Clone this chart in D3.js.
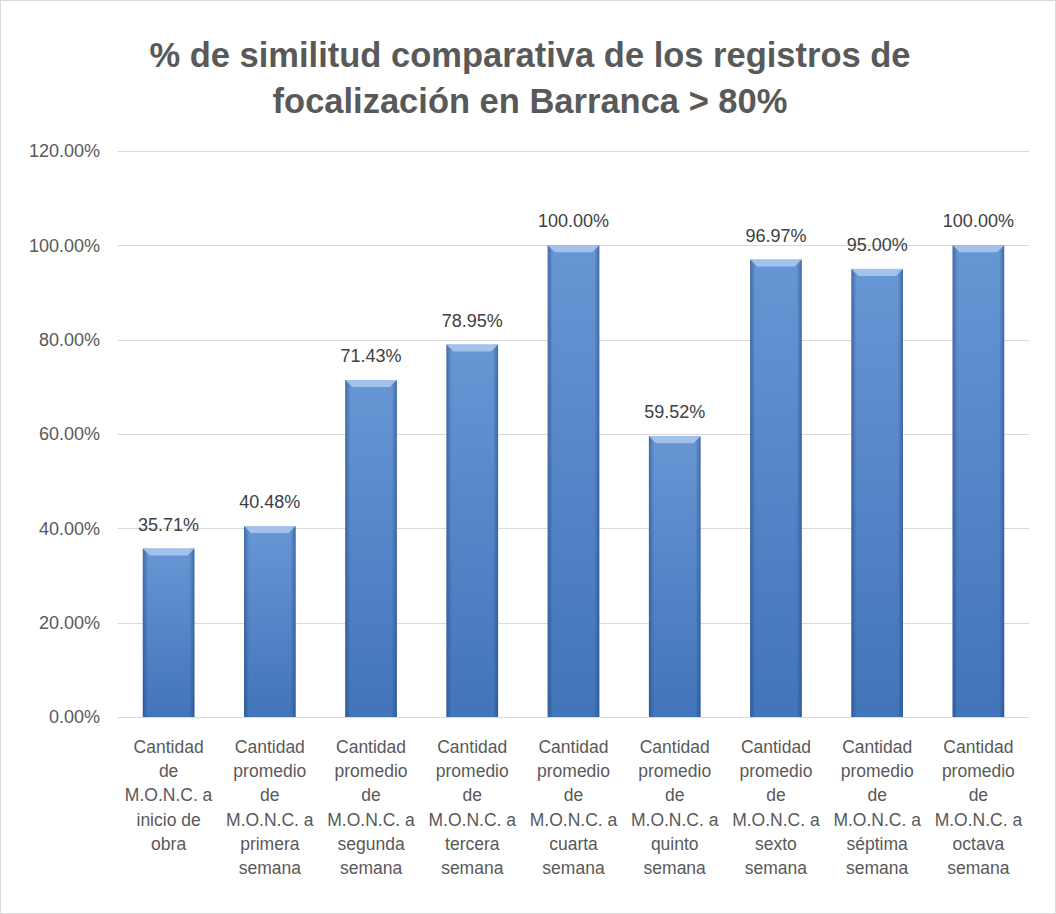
<!DOCTYPE html>
<html>
<head>
<meta charset="utf-8">
<script src="https://cdn.jsdelivr.net/npm/d3@7"></script>
<style>
  body { margin: 0; background: #fff; }
  text { font-family: "Liberation Sans", Arial, sans-serif; }
</style>
</head>
<body>
<svg id="chart" width="1056" height="914"></svg>
<script>
// data
var categories = [
  ["Cantidad", "de", "M.O.N.C. a", "inicio de", "obra"],
  ["Cantidad", "promedio", "de", "M.O.N.C. a", "primera", "semana"],
  ["Cantidad", "promedio", "de", "M.O.N.C. a", "segunda", "semana"],
  ["Cantidad", "promedio", "de", "M.O.N.C. a", "tercera", "semana"],
  ["Cantidad", "promedio", "de", "M.O.N.C. a", "cuarta", "semana"],
  ["Cantidad", "promedio", "de", "M.O.N.C. a", "quinto", "semana"],
  ["Cantidad", "promedio", "de", "M.O.N.C. a", "sexto", "semana"],
  ["Cantidad", "promedio", "de", "M.O.N.C. a", "séptima", "semana"],
  ["Cantidad", "promedio", "de", "M.O.N.C. a", "octava", "semana"]
];
var values = [35.71, 40.48, 71.43, 78.95, 100.00, 59.52, 96.97, 95.00, 100.00];
var yTicks = [0, 20, 40, 60, 80, 100, 120];
var titleLines = ["% de similitud comparativa de los registros de", "focalización en Barranca > 80%"];

var W = 1056, H = 914;
var plot = {left: 118, right: 1029, top: 151, bottom: 717};

var svg = d3.select("#chart");

// outer border
svg.append("rect")
  .attr("x", 0.5).attr("y", 0.5)
  .attr("width", W - 1).attr("height", H - 1)
  .attr("fill", "#fff").attr("stroke", "#d9d9d9");

var defs = svg.append("defs");
var grad = defs.append("linearGradient").attr("id", "barGrad")
  .attr("x1", 0).attr("y1", 0).attr("x2", 0).attr("y2", 1);
grad.append("stop").attr("offset", "0%").attr("stop-color", "#6796d4");
grad.append("stop").attr("offset", "100%").attr("stop-color", "#4274bb");

var side = defs.append("linearGradient").attr("id", "sideGrad")
  .attr("x1", 0).attr("y1", 0).attr("x2", 1).attr("y2", 0);
side.append("stop").attr("offset", "0%").attr("stop-color", "#1f3f70").attr("stop-opacity", 0.5);
side.append("stop").attr("offset", "10%").attr("stop-color", "#1f3f70").attr("stop-opacity", 0);
side.append("stop").attr("offset", "90%").attr("stop-color", "#1f3f70").attr("stop-opacity", 0);
side.append("stop").attr("offset", "100%").attr("stop-color", "#1f3f70").attr("stop-opacity", 0.5);

var x = d3.scaleBand()
  .domain(d3.range(categories.length))
  .range([plot.left, plot.right])
  .paddingInner(0.49).paddingOuter(0.245);

var y = d3.scaleLinear().domain([0, 120]).range([plot.bottom, plot.top]);

// title
svg.append("g").selectAll("text")
  .data(titleLines).enter()
  .append("text")
  .attr("x", 530)
  .attr("y", function(d, i) { return 67 + i * 46; })
  .attr("text-anchor", "middle")
  .attr("font-size", 34.5)
  .attr("font-weight", "bold")
  .attr("fill", "#595959")
  .text(function(d) { return d; });

// gridlines
svg.append("g").selectAll("line")
  .data(yTicks).enter()
  .append("line")
  .attr("x1", plot.left).attr("x2", plot.right)
  .attr("y1", function(d) { return Math.round(y(d)) + 0.5; })
  .attr("y2", function(d) { return Math.round(y(d)) + 0.5; })
  .attr("stroke", "#d9d9d9").attr("stroke-width", 1);

// y axis labels
var yAxis = d3.axisLeft(y).tickValues(yTicks)
  .tickFormat(function(d) { return d.toFixed(2) + "%"; })
  .tickSize(0).tickPadding(18);
var yg = svg.append("g").attr("transform", "translate(" + plot.left + ",0)").call(yAxis);
yg.select(".domain").remove();
yg.selectAll("text")
  .attr("font-size", 18)
  .attr("font-family", "Liberation Sans, Arial, sans-serif")
  .attr("fill", "#595959");

// bars
var bars = svg.append("g").selectAll("g")
  .data(values).enter()
  .append("g");

bars.append("rect")
  .attr("x", function(d, i) { return x(i); })
  .attr("y", function(d) { return y(d); })
  .attr("width", x.bandwidth())
  .attr("height", function(d) { return y(0) - y(d); })
  .attr("fill", "url(#barGrad)");

bars.append("rect")
  .attr("x", function(d, i) { return x(i); })
  .attr("y", function(d) { return y(d); })
  .attr("width", x.bandwidth())
  .attr("height", function(d) { return y(0) - y(d); })
  .attr("fill", "url(#sideGrad)");

// bevel on top
bars.append("path")
  .attr("d", function(d, i) {
    var x0 = x(i), x1 = x(i) + x.bandwidth(), t = y(d), b = 7;
    return "M" + x0 + "," + t + "L" + x1 + "," + t + "L" + (x1 - b) + "," + (t + b) +
      "L" + (x0 + b) + "," + (t + b) + "Z";
  })
  .attr("fill", "#a9c6ee").attr("opacity", 0.9);

// value labels
bars.append("text")
  .attr("x", function(d, i) { return x(i) + x.bandwidth() / 2; })
  .attr("y", function(d) { return y(d) - 18; })
  .attr("text-anchor", "middle")
  .attr("font-size", 18)
  .attr("fill", "#404040")
  .text(function(d) { return d.toFixed(2) + "%"; });

// x axis line
svg.append("line")
  .attr("x1", plot.left).attr("x2", plot.right)
  .attr("y1", Math.round(y(0)) + 0.5).attr("y2", Math.round(y(0)) + 0.5)
  .attr("stroke", "#d9d9d9");

// category labels
var cat = svg.append("g").selectAll("text")
  .data(categories).enter()
  .append("text")
  .attr("x", function(d, i) { return x(i) + x.bandwidth() / 2; })
  .attr("y", 753)
  .attr("text-anchor", "middle")
  .attr("font-size", 17.5)
  .attr("fill", "#595959");

cat.selectAll("tspan")
  .data(function(d, i) { return d.map(function(s) { return {s: s, i: i}; }); })
  .enter()
  .append("tspan")
  .attr("x", function(d) { return x(d.i) + x.bandwidth() / 2; })
  .attr("dy", function(d, j) { return j === 0 ? 0 : 24.2; })
  .text(function(d) { return d.s; });
</script>
</body>
</html>
